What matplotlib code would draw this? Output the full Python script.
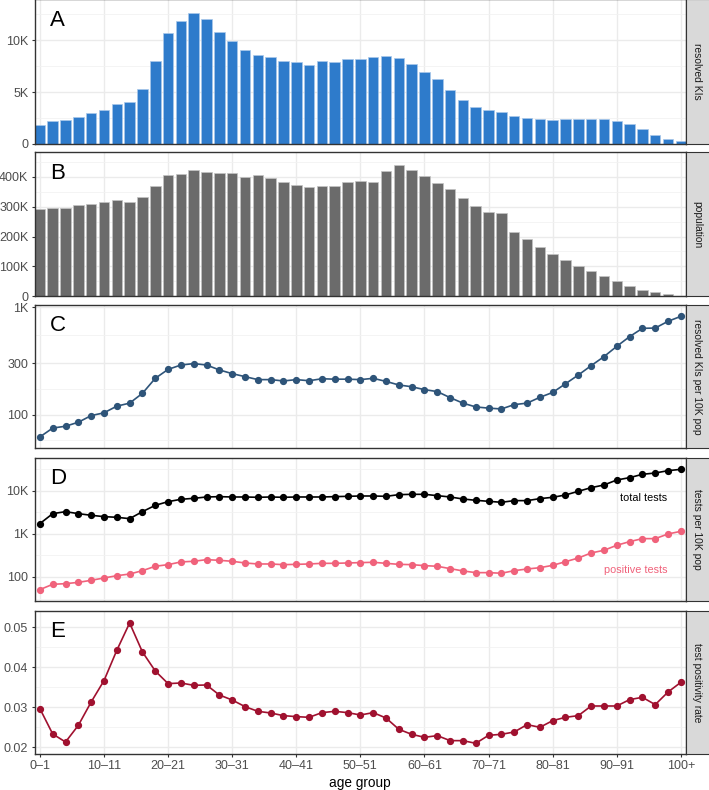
import matplotlib
matplotlib.use("Agg")
import matplotlib.pyplot as plt
import numpy as np
from matplotlib.ticker import FixedLocator, FuncFormatter, NullFormatter

plt.rcParams['font.family'] = ['Liberation Sans', 'DejaVu Sans']

age_groups = [f"{a}–{a+1}" for a in range(0, 100, 2)] + ["100+"]
tick_labels = ["0–1", "10–11", "20–21", "30–31", "40–41", "50–51",
               "60–61", "70–71", "80–81", "90–91", "100+"]

resolved_kis = [1800, 2200, 2350, 2600, 3000, 3300, 3850, 4050, 5270, 8000,
                10640, 11830, 12640, 12000, 10770, 9940, 9040, 8520, 8360, 7940,
                7880, 7560, 7970, 7880, 8170, 8170, 8360, 8460, 8260, 7720,
                6910, 6240, 5180, 4210, 3570, 3280, 3120, 2670, 2480, 2410,
                2320, 2380, 2440, 2440, 2440, 2220, 1900, 1480, 840, 480, 320]

population = [291600, 296000, 297000, 304000, 309500, 316000, 322000, 317000, 333000, 369000,
              404500, 408000, 423500, 415600, 413400, 411000, 400000, 404500, 395500, 384000,
              372000, 364000, 370000, 367600, 381000, 385500, 382000, 418000, 438000, 422000,
              403000, 380000, 357500, 328500, 300500, 282700, 277000, 215600, 192000, 164000,
              141000, 120700, 102800, 83800, 68000, 50300, 33500, 21200, 13400, 6700, 2000]

kis_per_10k = [62, 75, 78, 85, 98, 104, 120, 128, 158, 218,
               264, 290, 299, 290, 261, 241, 226, 212, 212, 206,
               212, 207, 216, 214, 214, 212, 218, 204, 189, 182,
               171, 164, 144, 128, 118, 115, 113, 124, 128, 145,
               161, 194, 234, 286, 347, 433, 533, 637, 641, 741, 824]

total_tests = [1722, 2930, 3260, 2930, 2685, 2500, 2412, 2245, 3260, 4570,
               5560, 6300, 6640, 7130, 7260, 7130, 7130, 7010, 7130, 7010,
               7130, 7130, 7130, 7260, 7390, 7520, 7520, 7390, 8070, 8220,
               8220, 7660, 7130, 6410, 5970, 5660, 5370, 5870, 5870, 6530,
               7010, 7940, 9660, 11730, 13510, 17660, 20000, 23900, 25640, 29040, 31190]

positive_tests = [51, 67.6, 70, 75, 83.7, 94.8, 107, 117, 140, 177,
                  193, 223, 231, 252, 243, 231, 211, 200, 200, 193,
                  196, 200, 207, 207, 211, 215, 219, 207, 196, 193,
                  183, 177, 156, 138, 126, 126, 122, 140, 153, 164,
                  186, 226, 275, 360, 415, 542, 659, 773, 773, 991, 1143]

positivity = [0.02967, 0.02333, 0.02133, 0.0255, 0.03133, 0.03667, 0.04425, 0.05108, 0.04383, 0.03908,
              0.03592, 0.03608, 0.0355, 0.03558, 0.03308, 0.03183, 0.03017, 0.029, 0.02858, 0.02792,
              0.02767, 0.0275, 0.02867, 0.029, 0.02867, 0.02808, 0.02867, 0.02733, 0.0245, 0.02325,
              0.0225, 0.02292, 0.02167, 0.02167, 0.021, 0.023, 0.02325, 0.02383, 0.02567, 0.025,
              0.02667, 0.0275, 0.02792, 0.03033, 0.03033, 0.03033, 0.03192, 0.0325, 0.03067, 0.03383, 0.03625]

panel_letters = ["A", "B", "C", "D", "E"]
strip_labels = ["resolved KIs", "population", "resolved KIs per 10K pop",
                "tests per 10K pop", "test positivity rate"]

W, H = 709, 790
fig = plt.figure(figsize=(W / 100, H / 100), dpi=100)

left_px, right_px = 34.5, 686
panels_px = [(-1, 144), (152.3, 296.3), (305.3, 448), (457.5, 600.7), (611.3, 754)]

x = np.arange(len(age_groups))
tick_pos = [age_groups.index(t) for t in tick_labels]

axes = []
for (top, bot), strip in zip(panels_px, strip_labels):
    ax = fig.add_axes([left_px / W, 1 - bot / H, (right_px - left_px) / W, (bot - top) / H])
    sax = fig.add_axes([(right_px) / W, 1 - bot / H, 26 / W, (bot - top) / H])
    sax.set_facecolor('#d9d9d9')
    sax.set_xticks([]); sax.set_yticks([])
    for s in sax.spines.values():
        s.set_color('#333333'); s.set_linewidth(0.8)
    sax.text(0.42, 0.5, strip, rotation=270, ha='center', va='center',
             fontsize=7.4, color='#1a1a1a', transform=sax.transAxes)
    axes.append(ax)

def style(ax, last=False):
    ax.set_xlim(-0.42, 50.4)
    ax.set_axisbelow(True)
    ax.set_xticks(tick_pos)
    ax.grid(True, which='major', color='#ebebeb', linewidth=1.0)
    ax.grid(True, which='minor', color='#f2f2f2', linewidth=0.6)
    for s in ax.spines.values():
        s.set_color('#333333'); s.set_linewidth(1.0)
    ax.tick_params(axis='y', which='major', length=2.5, width=0.8, color='#333333',
                   labelsize=9, labelcolor='#4d4d4d', pad=2)
    ax.tick_params(axis='y', which='minor', length=0)
    if last:
        ax.set_xticklabels(tick_labels)
        ax.tick_params(axis='x', length=2.5, width=0.8, color='#333333',
                       labelsize=9, labelcolor='#4d4d4d', pad=2)
        ax.set_xlabel("age group", fontsize=9.8, color='black', labelpad=3)
    else:
        ax.set_xticklabels([])
        ax.tick_params(axis='x', length=0)

def kfmt(v, pos):
    if v == 0:
        return "0"
    if v >= 1000:
        return f"{v/1000:g}K"
    return f"{v:g}"

# A
ax = axes[0]
ax.bar(x, resolved_kis, width=0.82, color='#2e7bcb', edgecolor='#a9c8ea', linewidth=0.5)
ax.set_ylim(0, 13950)
ax.yaxis.set_major_locator(FixedLocator([0, 5000, 10000]))
ax.yaxis.set_minor_locator(FixedLocator([2500, 7500, 12500]))
ax.yaxis.set_major_formatter(FuncFormatter(kfmt))
style(ax)

# B
ax = axes[1]
ax.bar(x, population, width=0.82, color='#6b6b6b', edgecolor='#c4c4c4', linewidth=0.5)
ax.set_ylim(0, 481700)
ax.yaxis.set_major_locator(FixedLocator([0, 100000, 200000, 300000, 400000]))
ax.yaxis.set_minor_locator(FixedLocator([50000, 150000, 250000, 350000, 450000]))
ax.yaxis.set_major_formatter(FuncFormatter(kfmt))
style(ax)

# C
ax = axes[2]
ax.plot(x, kis_per_10k, color='#2e5479', linewidth=1.2, marker='o', markersize=4.2)
ax.set_yscale('log')
ax.set_ylim(48.9, 1044)
ax.yaxis.set_major_locator(FixedLocator([100, 300, 1000]))
ax.yaxis.set_minor_locator(FixedLocator([10 ** 1.7614, 10 ** 2.2386, 10 ** 2.7386]))
ax.yaxis.set_major_formatter(FuncFormatter(kfmt))
ax.yaxis.set_minor_formatter(NullFormatter())
style(ax)

# D
ax = axes[3]
ax.plot(x, total_tests, color='black', linewidth=1.2, marker='o', markersize=4.2)
ax.plot(x, positive_tests, color='#f0627b', linewidth=1.2, marker='o', markersize=4.2)
ax.set_yscale('log')
ax.set_ylim(28.2, 58600)
ax.yaxis.set_major_locator(FixedLocator([100, 1000, 10000]))
ax.yaxis.set_minor_locator(FixedLocator([10 ** 1.5, 10 ** 2.5, 10 ** 3.5, 10 ** 4.5]))
ax.yaxis.set_major_formatter(FuncFormatter(kfmt))
ax.yaxis.set_minor_formatter(NullFormatter())
ax.text(48.95, 6800, "total tests", ha='right', va='center', fontsize=7.8, color='black')
ax.text(48.95, 145, "positive tests", ha='right', va='center', fontsize=7.8, color='#f0627b')
style(ax)

# E
ax = axes[4]
ax.plot(x, positivity, color='#a0112f', linewidth=1.2, marker='o', markersize=4.2)
ax.set_ylim(0.01833, 0.054)
ax.yaxis.set_major_locator(FixedLocator([0.02, 0.03, 0.04, 0.05]))
ax.yaxis.set_minor_locator(FixedLocator([0.025, 0.035, 0.045]))
ax.yaxis.set_major_formatter(FuncFormatter(lambda v, p: f"{v:.2f}"))
style(ax, last=True)

for ax, letter in zip(axes, panel_letters):
    ax.text(0.024, 0.855, letter, transform=ax.transAxes, ha='left', va='center',
            fontsize=16, color='black')

fig.savefig("out.png", dpi=100)
